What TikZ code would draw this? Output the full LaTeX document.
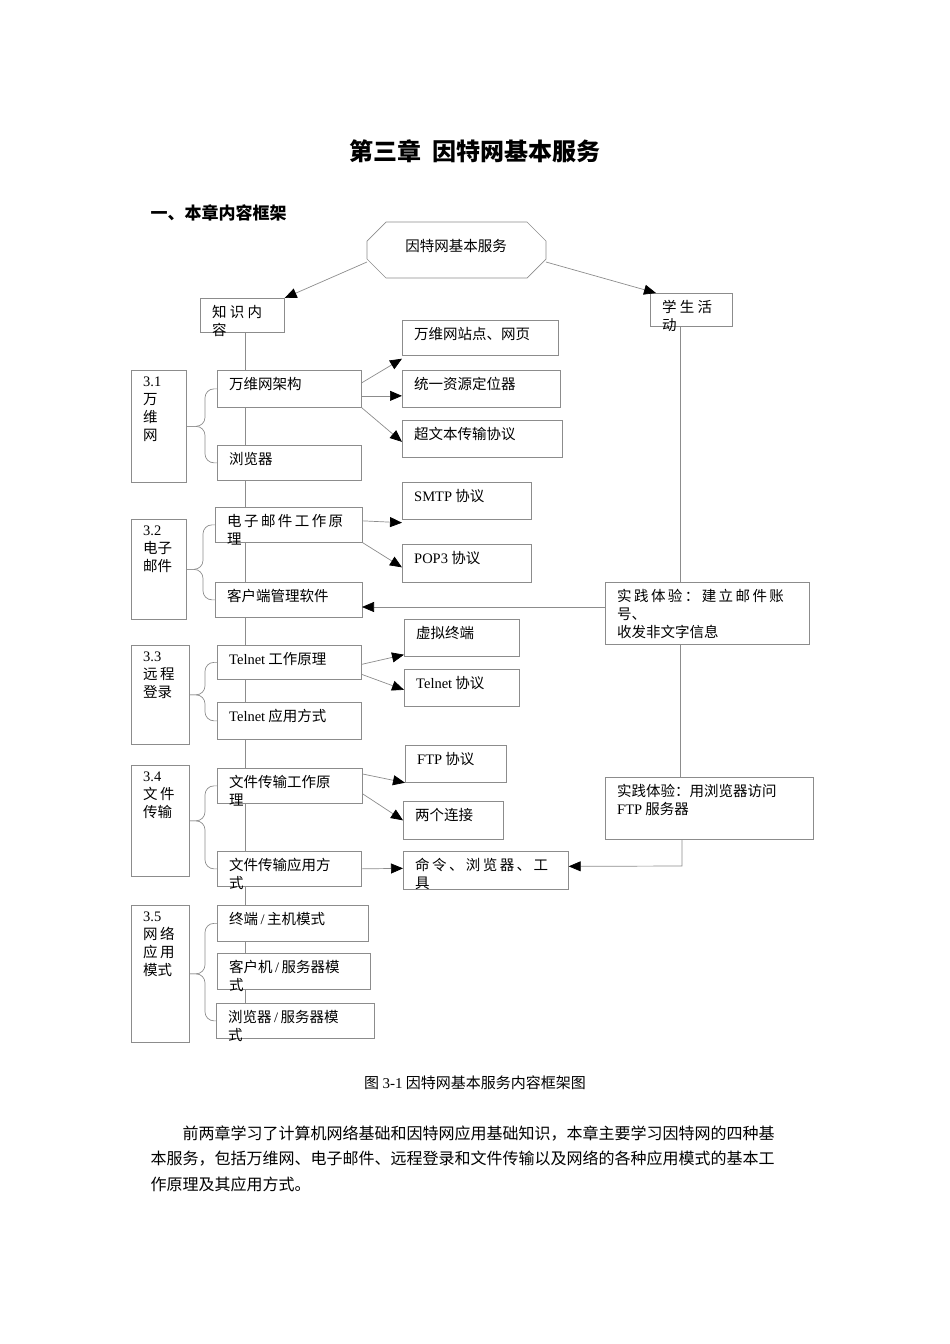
\documentclass[tikz,border=0pt]{standalone}
\usepackage{fontspec}
\setmainfont{Noto Sans CJK SC}
\newfontfamily\lat{Liberation Serif}
\usetikzlibrary{arrows.meta}
\newcommand\bx[6]{%
  \node[boxs, minimum width={(#4-#2)*1pt}, minimum height={(#5-#3)*1pt}] (#1) at (#2,#3) {};
  \node[txt] at (#2+12,#3+7) {#6};}
\tikzset{
  boxs/.style={draw=black!45, fill=white, line width=0.7pt, anchor=north west, inner sep=0pt},
  txt/.style={anchor=north west, inner sep=0pt, align=left, font=\fontsize{14.5}{18}\selectfont},
  ln/.style={draw=black!45, line width=0.7pt},
  arr/.style={ln, -{Triangle[length=12pt,width=10pt,color=black]}},
}
\begin{document}
\begin{tikzpicture}[x=1pt,y=-1pt]
\useasboundingbox (0,0) rectangle (950,1344);
\node[font=\fontsize{24}{28}\selectfont\bfseries] (title) at (475,151) {第三章\ \ 因特网基本服务};
\node[anchor=west, font=\fontsize{17}{20}\selectfont\bfseries] (sec) at (147,213) {一、本章内容框架};
% spine (behind boxes)
\coordinate (sp0) at (245,332);
\coordinate (sp1) at (245,1003);
\draw[ln] (sp0) -- (sp1);
% octagon
\draw[ln] (386,222) -- (527,222) -- (546,241) -- (546,259) -- (527,278) -- (386,278) -- (367,259) -- (367,241) -- cycle;
\node[font=\fontsize{14.5}{18}\selectfont] (top) at (456,246) {因特网基本服务};
\coordinate (topL) at (367,262);
\coordinate (topR) at (546,262);
\bx{zs}{200}{298}{284}{332}{知\ 识\ 内\\容}
\bx{xs}{650}{293}{732}{326}{学\ 生\ 活\\动}
\draw[arr] (topL) -- (zs.north east);
\draw[arr] (topR) -- ([xshift=6pt]xs.north west);
% left section boxes
\bx{s1}{131}{370}{186}{482}{{\lat 3.1}\\万\\维\\网}
\bx{s2}{131}{519}{186}{619}{{\lat 3.2}\\电子\\邮件}
\bx{s3}{131}{645}{189}{744}{{\lat 3.3}\\远\,程\\登录}
\bx{s4}{131}{765}{189}{876}{{\lat 3.4}\\文\,件\\传输}
\bx{s5}{131}{905}{189}{1042}{{\lat 3.5}\\网\,络\\应\,用\\模式}
% middle boxes
\bx{m1}{217}{370}{361}{407}{万维网架构}
\bx{m2}{217}{445}{361}{480}{浏览器}
\bx{m3}{215}{507}{362}{542}{电\,子\,邮\,件\,工\,作\,原\\理}
\bx{m4}{215}{582}{362}{617}{客户端管理软件}
\bx{m5}{217}{645}{361}{679}{{\lat Telnet} 工作原理}
\bx{m6}{217}{702}{361}{739}{{\lat Telnet} 应用方式}
\bx{m7}{217}{768}{362}{803}{文件传输工作原\\理}
\bx{m8}{217}{851}{361}{886}{文件传输应用方\\式}
\bx{m9}{217}{905}{368}{941}{终端{\lat\,/\,}主机模式}
\bx{m10}{217}{953}{370}{989}{客户机{\lat\,/\,}服务器模\\式}
\bx{m11}{216}{1003}{374}{1038}{浏览器{\lat\,/\,}服务器模\\式}
% right boxes
\bx{r1}{402}{320}{558}{355}{万维网站点、网页}
\bx{r2}{402}{370}{560}{407}{统一资源定位器}
\bx{r3}{402}{420}{562}{457}{超文本传输协议}
\bx{r4}{402}{482}{531}{519}{{\lat SMTP} 协议}
\bx{r5}{402}{544}{531}{582}{{\lat POP3} 协议}
\bx{r6}{404}{619}{519}{656}{虚拟终端}
\bx{r7}{404}{669}{519}{706}{{\lat Telnet} 协议}
\bx{r8}{405}{745}{506}{782}{{\lat FTP} 协议}
\bx{r9}{403}{801}{503}{839}{两个连接}
\bx{r10}{403}{851}{568}{889}{命\,令\,、\,浏\,览\,器\,、\,工\\具}
\bx{p1}{605}{582}{809}{644}{实\,践\,体\,验\,：\,建\,立\,邮\,件\,账\\号、\\收发非文字信息}
\bx{p2}{605}{777}{813}{839}{实践体验：用浏览器访问\\{\lat FTP} 服务器}
% arrows middle->right
\draw[arr] ([yshift=6pt]m1.east) -- ([yshift=-3pt]r1.south west);
\draw[arr] ([yshift=-7pt]m1.east) -- ([yshift=-7pt]r2.west);
\draw[arr] (m1.south east) -- ([yshift=-3pt]r3.west);
\draw[arr] ([yshift=4pt]m3.east) -- ([yshift=-3pt]r4.south west);
\draw[arr] (m3.south east) -- ([yshift=-4pt]r5.west);
\draw[arr] ([yshift=-2pt]m5.east) -- ([yshift=2pt]r6.south west);
\draw[arr] ([yshift=-12pt]m5.east) -- ([yshift=-2pt]r7.west);
\draw[arr] ([yshift=-6pt]m7.north east) -- (r8.south west);
\draw[arr] ([yshift=-8pt]m7.east) -- (r9.west);
\draw[arr] (m8.east) -- ([yshift=2pt]r10.west);
% student activity line
\coordinate (v0) at (680,326);
\coordinate (v1) at (680,582);
\coordinate (v2) at (680,644);
\coordinate (v3) at (680,777);
\draw[ln] (v0) -- (v1);
\draw[ln] (v2) -- (v3);
\coordinate (h1) at (605,607);
\coordinate (h2) at (362,607);
\draw[arr] (h1) -- (h2);
\coordinate (v4) at (682,839);
\coordinate (v5) at (682,866);
\draw[arr] (v4) -- (v5) -- ([yshift=4pt]r10.east);
% braces
\foreach \L/\A/\B in {s1/m1/m2, s2/m3/m4, s3/m5/m6, s4/m7/m8, s5/m9/m11}{
  \draw[ln, rounded corners=9pt] (\L.east) -- ([xshift=-12pt]\L.east -| \A.west) |- (\A.west);
  \draw[ln, rounded corners=9pt] (\L.east) -- ([xshift=-12pt]\L.east -| \A.west) |- (\B.west);
}
% caption and paragraph
\node[font=\fontsize{15}{18}\selectfont] (cap) at (475,1083) {图 {\lat 3-1} 因特网基本服务内容框架图};
\node[anchor=west, font=\fontsize{16}{20}\selectfont] (pa) at (179,1134) {前两章学习了计算机网络基础和因特网应用基础知识，本章主要学习因特网的四种基};
\node[anchor=west, font=\fontsize{16}{20}\selectfont] (pb) at (147,1159) {本服务，包括万维网、电子邮件、远程登录和文件传输以及网络的各种应用模式的基本工};
\node[anchor=west, font=\fontsize{16}{20}\selectfont] (pc) at (147,1184) {作原理及其应用方式。};
\end{tikzpicture}
\end{document}
